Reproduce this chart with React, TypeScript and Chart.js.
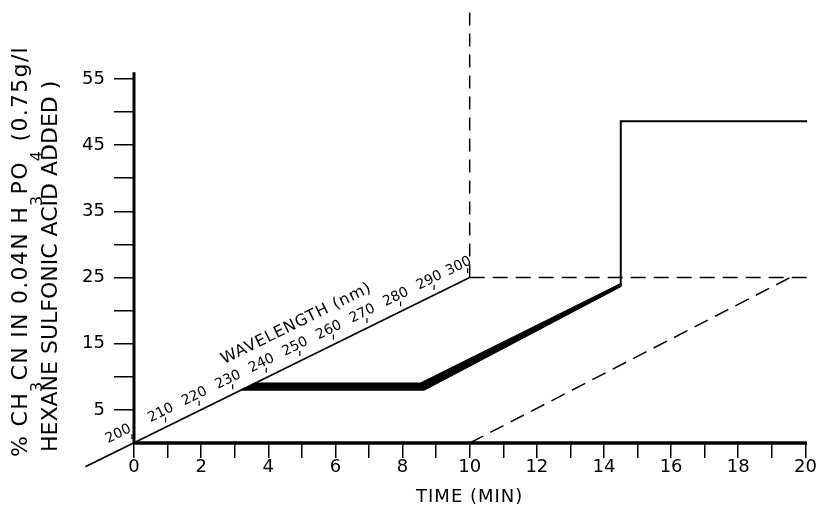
import React, { useEffect, useRef } from 'react';
import { Chart, registerables } from 'chart.js';

Chart.register(...registerables);

// ---- tick values / labels ----
const TIME_TICKS = [0, 1, 2, 3, 4, 5, 6, 7, 8, 9, 10, 11, 12, 13, 14, 15, 16, 17, 18, 19, 20];
const TIME_LABELED = [0, 2, 4, 6, 8, 10, 12, 14, 16, 18, 20];
const PERCENT_TICKS = [5, 10, 15, 20, 25, 30, 35, 40, 45, 50, 55];
const PERCENT_LABELED = [5, 15, 25, 35, 45, 55];
const WAVELENGTHS = [200, 210, 220, 230, 240, 250, 260, 270, 280, 290, 300];

// ---- axis lines (time, percent) ----
const yAxisTime = [0, 0];
const yAxisPercent = [0, 56];
const xAxisTime = [0, 20.05];
const xAxisPercent = [0, 0];
// wavelength (depth) axis: 200 nm at origin, 300 nm at (10, 25)
const wlAxisTime = [-1.45, 10];
const wlAxisPercent = [-3.6, 25];

// ---- gradient profile ----
const bandTime = [3.18, 3.6, 8.53, 14.5, 14.5, 8.65, 3.18];
const bandPercent = [7.98, 9.06, 9.06, 24.1, 23.6, 7.98, 7.98];
const stepTime = [14.5, 14.5, 20.05];
const stepPercent = [23.8, 48.6, 48.6];

// ---- dashed box ----
const dashVertTime = [10, 10];
const dashVertPercent = [25, 66];
const dashHorizTime = [10, 20.05];
const dashHorizPercent = [25, 25];
const dashDiagTime = [10, 19.55];
const dashDiagPercent = [0, 25];

const pts = (xs: number[], ys: number[]) => xs.map((v, i) => ({ x: v, y: ys[i] }));

const wlFraction = (w: number) =>
  (w - WAVELENGTHS[0]) / (WAVELENGTHS[WAVELENGTHS.length - 1] - WAVELENGTHS[0]);

const wlTickPoints = WAVELENGTHS.map((w) => ({
  x: wlFraction(w) * wlAxisTime[1] - 0.06,
  y: wlFraction(w) * wlAxisPercent[1] + 1.0,
}));

const FONT = '"DejaVu Sans", "Liberation Sans", sans-serif';

const textPlugin = {
  id: 'annotText',
  afterDatasetsDraw(chart: any) {
    const { ctx } = chart;
    const xs = chart.scales.x;
    const ys = chart.scales.y;
    ctx.save();
    ctx.fillStyle = '#000';

    // wavelength axis labels
    const ox = xs.getPixelForValue(0);
    const oy = ys.getPixelForValue(0);
    const ex = xs.getPixelForValue(wlAxisTime[1]);
    const ey = ys.getPixelForValue(wlAxisPercent[1]);
    const ang = Math.atan2(ey - oy, ex - ox);
    const ux = Math.cos(ang);
    const uy = Math.sin(ang);
    const nx = uy;
    const ny = -ux;
    ctx.font = `14px ${FONT}`;
    ctx.textAlign = 'center';
    ctx.textBaseline = 'middle';
    WAVELENGTHS.forEach((w, i) => {
      const f = wlFraction(w);
      const px = ox + (ex - ox) * f;
      const py = oy + (ey - oy) * f;
      let shift = 0;
      if (i === 0) shift = -10;
      if (i === WAVELENGTHS.length - 1) shift = -5;
      const cx = px + nx * 15 + ux * shift;
      const cy = py + ny * 15 + uy * shift;
      ctx.save();
      ctx.translate(cx, cy);
      ctx.rotate(ang);
      ctx.fillText(String(w), 0, 0);
      ctx.restore();
    });

    // WAVELENGTH (nm)
    {
      const f = 0.53;
      const px = ox + (ex - ox) * f;
      const py = oy + (ey - oy) * f;
      ctx.save();
      ctx.translate(px + nx * 35, py + ny * 35);
      ctx.rotate(ang);
      ctx.font = `16px ${FONT}`;
      (ctx as any).letterSpacing = '0.8px';
      ctx.fillText('WAVELENGTH (nm)', 0, 0);
      ctx.restore();
    }

    // x title
    ctx.save();
    ctx.font = `18px ${FONT}`;
    (ctx as any).letterSpacing = '1px';
    ctx.textAlign = 'center';
    ctx.textBaseline = 'middle';
    ctx.fillText('TIME (MIN)', xs.getPixelForValue(10), 497);
    ctx.restore();

    // y title (two rotated lines with subscripts)
    const drawLine = (segs: [string, boolean][], bx: number, by: number, spacing: string) => {
      ctx.save();
      ctx.translate(bx, by);
      ctx.rotate(-Math.PI / 2);
      ctx.textAlign = 'left';
      ctx.textBaseline = 'alphabetic';
      (ctx as any).letterSpacing = spacing;
      let cur = 0;
      segs.forEach(([t, sub]) => {
        ctx.font = sub ? `16px ${FONT}` : `22px ${FONT}`;
        ctx.fillText(t, cur, sub ? 15 : 0);
        cur += ctx.measureText(t).width;
      });
      ctx.restore();
    };
    drawLine(
      [
        ['% CH', false],
        ['3', true],
        ['CN IN 0.04N H', false],
        ['3', true],
        ['PO', false],
        ['4', true],
        [' (0.75g/l', false],
      ],
      27,
      457,
      '1.3px'
    );
    drawLine([['HEXANE SULFONIC ACID ADDED )', false]], 57, 452, '0px');

    ctx.restore();
  },
};

export default function App() {
  const ref = useRef<HTMLCanvasElement | null>(null);

  useEffect(() => {
    if (!ref.current) return;
    const line = (data: any[], extra: any = {}) => ({
      data,
      showLine: true,
      borderColor: '#000',
      backgroundColor: '#000',
      borderWidth: 1.5,
      pointRadius: 0,
      clip: false,
      ...extra,
    });

    const chart = new Chart(ref.current, {
      type: 'scatter',
      data: {
        datasets: [
          line(pts(yAxisTime, yAxisPercent), { borderWidth: 3 }),
          line(pts(xAxisTime, xAxisPercent), { borderWidth: 3.5 }),
          line(pts(wlAxisTime, wlAxisPercent), { borderWidth: 1.6 }),
          line(pts(bandTime, bandPercent), { borderWidth: 1, fill: 'shape' }),
          line(pts(stepTime, stepPercent), { borderWidth: 2 }),
          line(pts(dashVertTime, dashVertPercent), { borderDash: [13, 8] }),
          line(pts(dashHorizTime, dashHorizPercent), { borderDash: [15, 8] }),
          line(pts(dashDiagTime, dashDiagPercent), { borderDash: [15, 8] }),
          {
            data: wlTickPoints,
            showLine: false,
            pointStyle: 'line',
            rotation: 90,
            pointRadius: 2.5,
            borderWidth: 1.2,
            borderColor: '#000',
            clip: false,
          },
        ],
      },
      options: {
        responsive: false,
        maintainAspectRatio: false,
        animation: false,
        events: [],
        layout: { padding: { left: 0, right: 5.9, top: 6, bottom: 0 } },
        plugins: {
          legend: { display: false },
          tooltip: { enabled: false },
        },
        scales: {
          x: {
            type: 'linear',
            position: 'bottom',
            min: 0,
            max: 20.2,
            afterBuildTicks: (s: any) => {
              s.ticks = TIME_TICKS.map((v) => ({ value: v }));
            },
            afterFit: (s: any) => {
              s.height = 72;
              s.paddingLeft = 0;
              s.paddingRight = 0;
            },
            border: { display: false },
            grid: {
              display: true,
              drawOnChartArea: false,
              drawTicks: true,
              tickLength: 15,
              color: '#000',
              lineWidth: 1.5,
            },
            ticks: {
              autoSkip: false,
              maxRotation: 0,
              padding: -1,
              color: '#000',
              font: { family: FONT, size: 18 },
              callback: (v: any) => (TIME_LABELED.includes(Number(v)) ? String(v) : ''),
            },
          },
          y: {
            type: 'linear',
            position: 'left',
            min: 0,
            max: 66,
            afterBuildTicks: (s: any) => {
              s.ticks = PERCENT_TICKS.map((v) => ({ value: v }));
            },
            afterFit: (s: any) => {
              s.width = 134;
              s.paddingTop = 0;
              s.paddingBottom = 0;
            },
            border: { display: false },
            grid: {
              display: true,
              drawOnChartArea: false,
              drawTicks: true,
              tickLength: 20,
              color: '#000',
              lineWidth: 1.5,
            },
            ticks: {
              autoSkip: false,
              padding: 9,
              color: '#000',
              font: { family: FONT, size: 18 },
              callback: (v: any) => (PERCENT_LABELED.includes(Number(v)) ? String(v) : ''),
            },
          },
        },
      },
      plugins: [textPlugin],
    });
    return () => chart.destroy();
  }, []);

  return (
    <div style={{ position: 'absolute', left: 0, top: 0, width: 818, height: 515, background: '#fff' }}>
      <canvas ref={ref} width={818} height={515} style={{ display: 'block' }} />
    </div>
  );
}
